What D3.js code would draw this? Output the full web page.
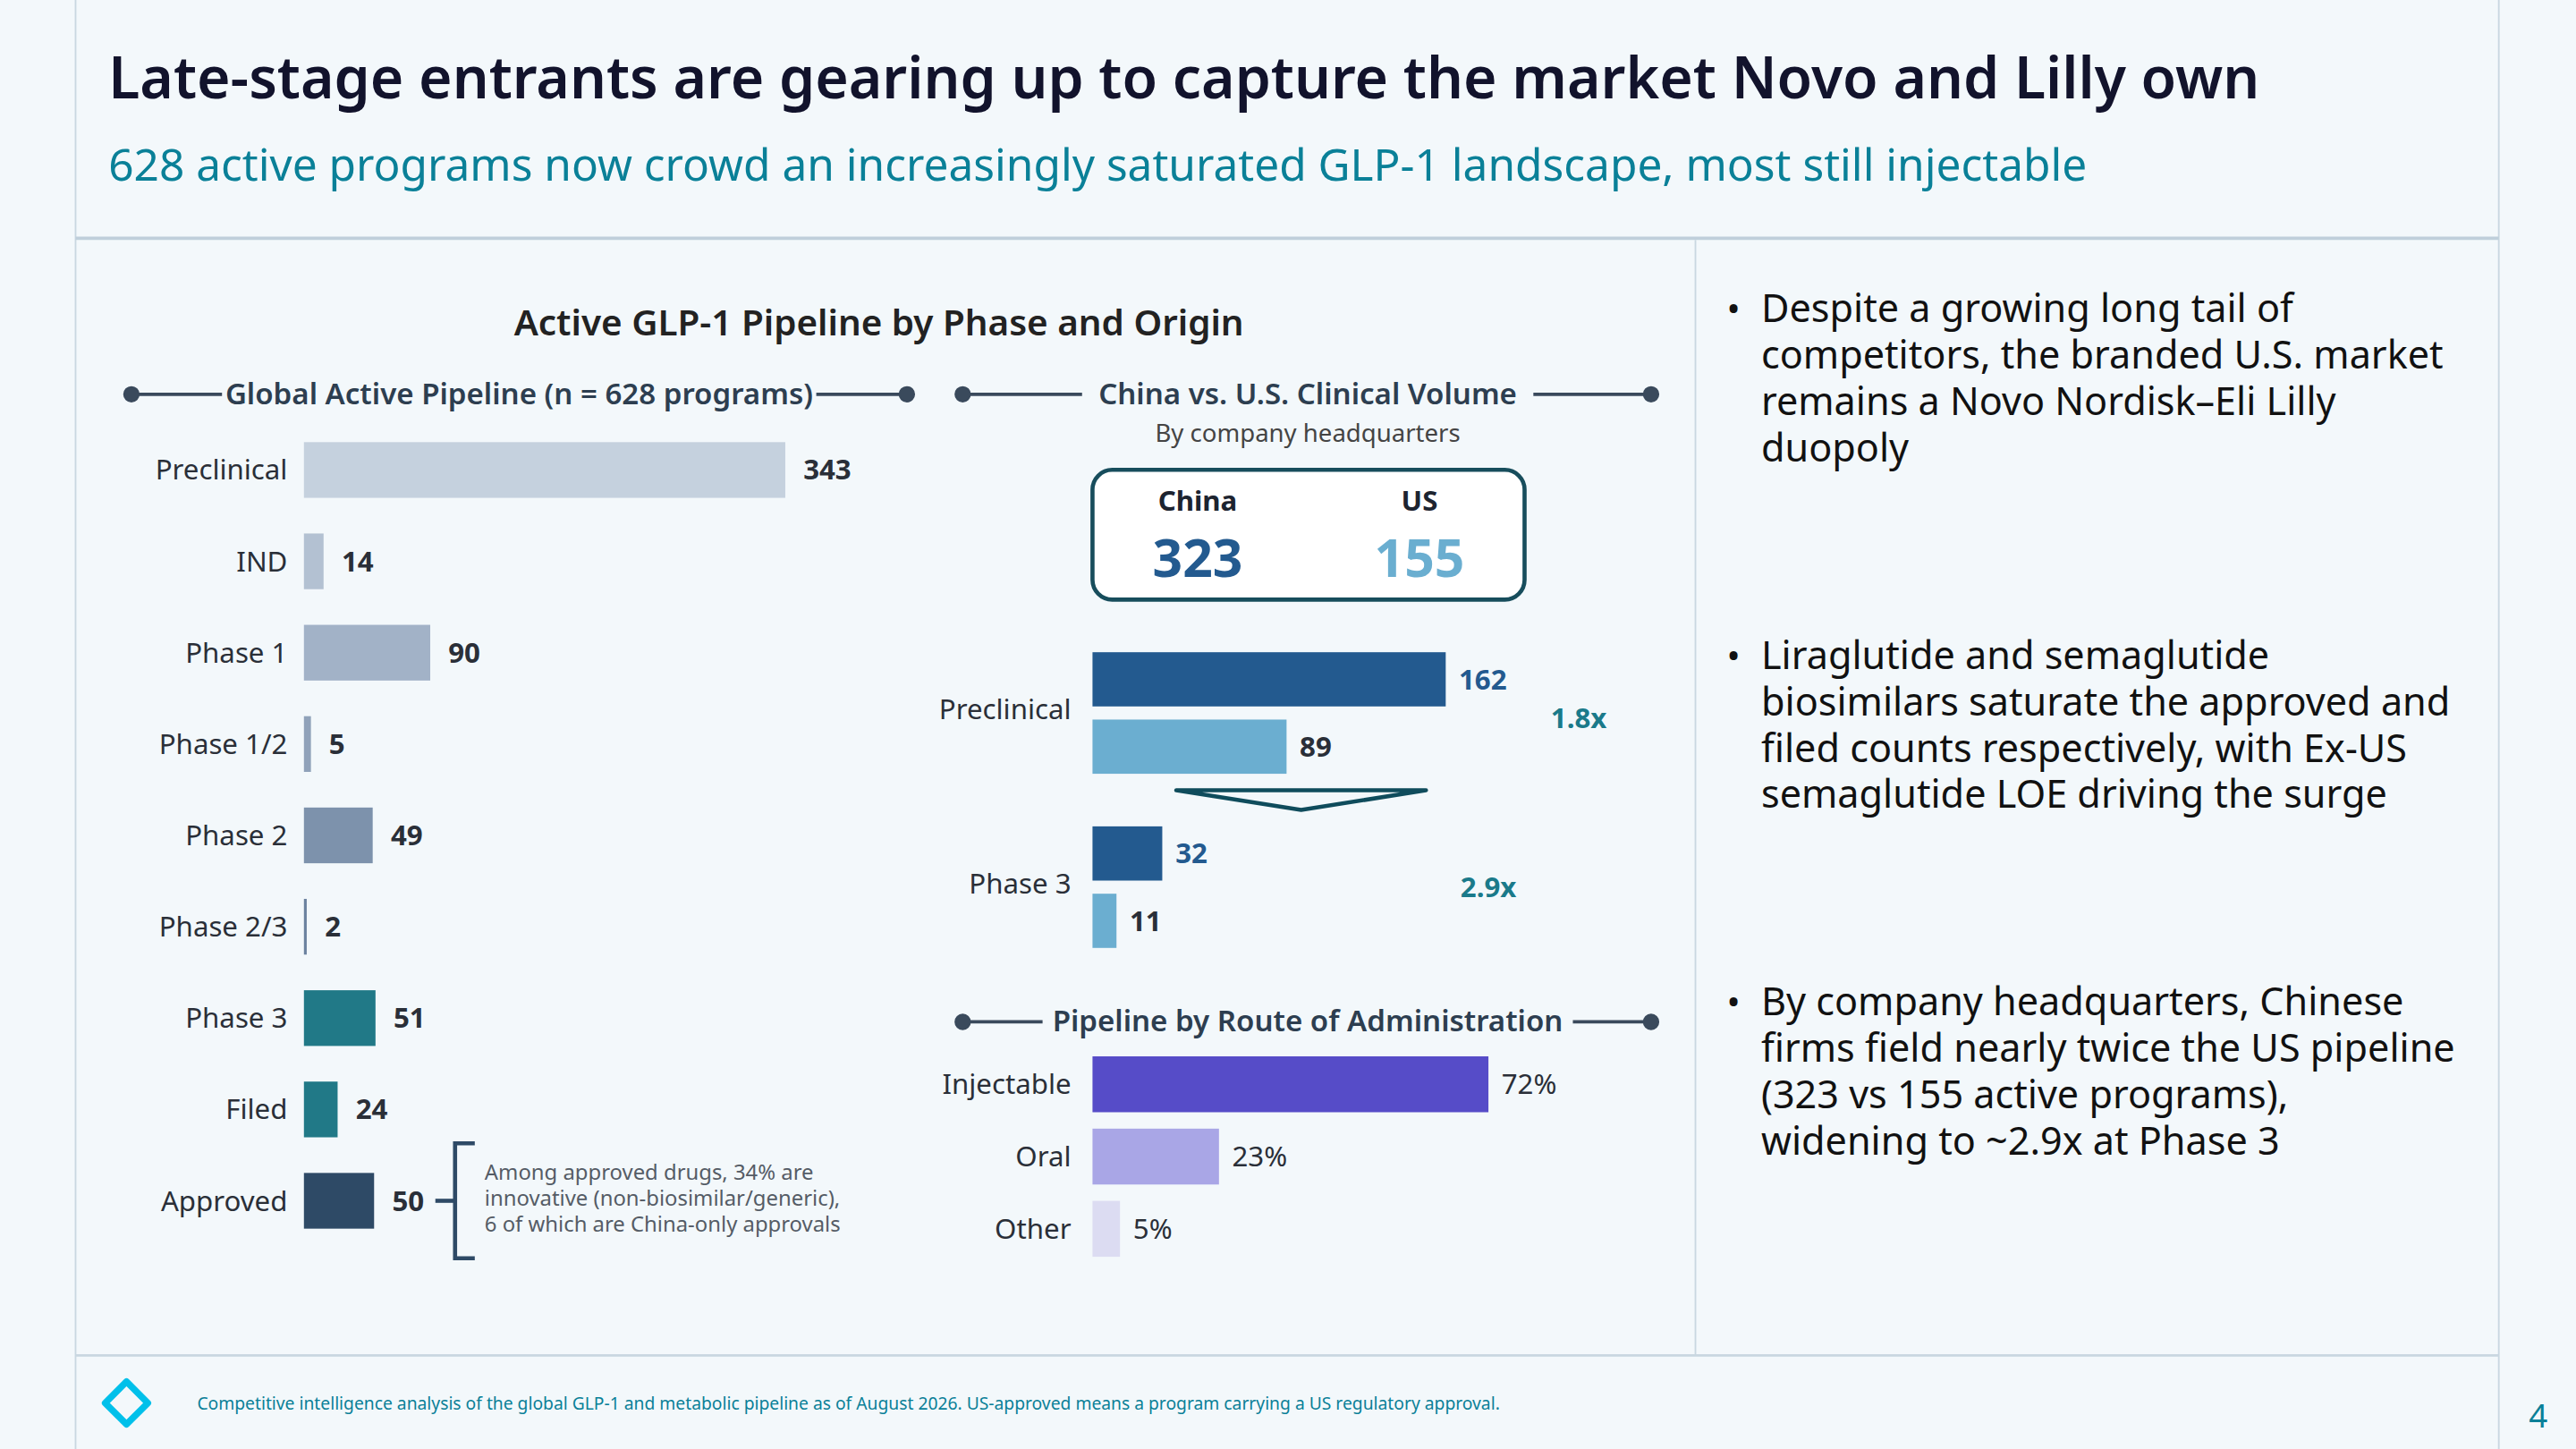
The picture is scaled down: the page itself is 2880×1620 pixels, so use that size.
<!DOCTYPE html>
<html><head><meta charset="utf-8">
<script src="https://cdn.jsdelivr.net/npm/d3@7"></script>
<style>html,body{margin:0;padding:0;background:#f3f8fb;}svg{display:block;font-family:"Noto Sans","Open Sans",sans-serif;}</style>
</head><body><div id="chart"></div>
<script>
// data
const phases = ["Preclinical", "IND", "Phase 1", "Phase 1/2", "Phase 2", "Phase 2/3", "Phase 3", "Filed", "Approved"];
const phaseCounts = [343, 14, 90, 5, 49, 2, 51, 24, 50];
const phaseColors = ["#c5d1de", "#b3c1d2", "#a2b2c7", "#90a2ba", "#7d92ac", "#6b829f", "#217987", "#217987", "#2e4a66"];
const originStages = ["Preclinical", "Phase 3"];
const chinaCounts = [162, 32];
const usCounts = [89, 11];
const ratios = ["1.8x", "2.9x"];
const originTotals = [["China", 323], ["US", 155]];
const routes = ["Injectable", "Oral", "Other"];
const routeShares = [72, 23, 5];
const routeColors = ["#564cc8", "#a9a6e6", "#dcdcf2"];
const bullets = [
  ["Despite a growing long tail of", "competitors, the branded U.S. market", "remains a Novo Nordisk\u2013Eli Lilly", "duopoly"],
  ["Liraglutide and semaglutide", "biosimilars saturate the approved and", "filed counts respectively, with Ex-US", "semaglutide LOE driving the surge"],
  ["By company headquarters, Chinese", "firms field nearly twice the US pipeline", "(323 vs 155 active programs),", "widening to ~2.9x at Phase 3"]
];

const svg = d3.select("#chart").append("svg")
  .attr("width", 2880).attr("height", 1620)
  .attr("viewBox", "0 0 1568 882");

svg.append("rect").attr("width", 1568).attr("height", 882).attr("fill", "#f3f8fb");

// frame
const lineC = "#c9d7e1";
svg.append("line").attr("x1", 46).attr("x2", 46).attr("y1", 0).attr("y2", 882).attr("stroke", lineC);
svg.append("line").attr("x1", 1521).attr("x2", 1521).attr("y1", 0).attr("y2", 882).attr("stroke", lineC);
svg.append("line").attr("x1", 46).attr("x2", 1521).attr("y1", 145).attr("y2", 145).attr("stroke", "#bfcfdb").attr("stroke-width", 2);
svg.append("line").attr("x1", 1032).attr("x2", 1032).attr("y1", 146).attr("y2", 825).attr("stroke", lineC);
svg.append("line").attr("x1", 46).attr("x2", 1521).attr("y1", 825).attr("y2", 825).attr("stroke", "#c9d7e1").attr("stroke-width", 1.5);

// titles
svg.append("text").attr("x", 66).attr("y", 60).attr("font-size", 35).attr("font-weight", 600)
  .attr("fill", "#12132c").text("Late-stage entrants are gearing up to capture the market Novo and Lilly own");
svg.append("text").attr("x", 66).attr("y", 110).attr("font-size", 27)
  .attr("fill", "#0a8098").text("628 active programs now crowd an increasingly saturated GLP-1 landscape, most still injectable");
svg.append("text").attr("x", 535).attr("y", 204).attr("text-anchor", "middle").attr("font-size", 22).attr("font-weight", 600)
  .attr("fill", "#222").text("Active GLP-1 Pipeline by Phase and Origin");

function header(text, cx, y, x0, x1, gap) {
  const t = svg.append("text").attr("x", cx).attr("y", y + 6).attr("text-anchor", "middle")
    .attr("font-size", 18).attr("font-weight", 600).attr("fill", "#2d3e50").text(text);
  const w = t.node().getComputedTextLength();
  const g = svg.append("g").attr("stroke", "#3a4a5c").attr("fill", "#3a4a5c");
  g.append("line").attr("x1", x0).attr("x2", cx - w / 2 - gap).attr("y1", y).attr("y2", y).attr("stroke-width", 2);
  g.append("line").attr("x1", cx + w / 2 + gap).attr("x2", x1).attr("y1", y).attr("y2", y).attr("stroke-width", 2);
  g.append("circle").attr("cx", x0).attr("cy", y).attr("r", 4.5);
  g.append("circle").attr("cx", x1).attr("cy", y).attr("r", 4.5);
}

// left: global pipeline
header("Global Active Pipeline (n = 628 programs)", 316, 240, 80, 552, 2);
const xL = d3.scaleLinear().domain([0, 343]).range([185, 478]);
const yL = d3.scaleBand().domain(phases).range([258, 759]).paddingInner(0.39).paddingOuter(0.2);
const left = svg.append("g");
left.selectAll("rect").data(phases).join("rect")
  .attr("x", xL(0)).attr("y", d => yL(d)).attr("height", yL.bandwidth())
  .attr("width", (d, i) => xL(phaseCounts[i]) - xL(0)).attr("fill", (d, i) => phaseColors[i]);
left.selectAll("text.lab").data(phases).join("text").attr("class", "lab")
  .attr("x", 175).attr("y", d => yL(d) + yL.bandwidth() / 2 + 6).attr("text-anchor", "end")
  .attr("font-size", 17).attr("fill", "#2a2f38").text(d => d);
left.selectAll("text.val").data(phases).join("text").attr("class", "val")
  .attr("x", (d, i) => xL(phaseCounts[i]) + 11).attr("y", d => yL(d) + yL.bandwidth() / 2 + 6)
  .attr("font-size", 17).attr("font-weight", 700).attr("fill", "#2a2f38").text((d, i) => phaseCounts[i]);

// bracket annotation next to Approved
const ay = yL("Approved") + yL.bandwidth() / 2;
const br = svg.append("g").attr("stroke", "#2e4a66").attr("stroke-width", 2.5).attr("fill", "none");
br.append("line").attr("x1", 265).attr("x2", 277).attr("y1", ay).attr("y2", ay);
br.append("path").attr("d", `M289,${ay - 35} H277 V${ay + 35} H289`);
["Among approved drugs, 34% are", "innovative (non-biosimilar/generic),", "6 of which are China-only approvals"].forEach((s, i) => {
  svg.append("text").attr("x", 295).attr("y", ay - 13 + i * 16).attr("font-size", 13).attr("fill", "#555c66").text(s);
});

// middle: China vs US
header("China vs. U.S. Clinical Volume", 796, 240, 586, 1005, 10);
svg.append("text").attr("x", 796).attr("y", 269).attr("text-anchor", "middle").attr("font-size", 15)
  .attr("fill", "#444").text("By company headquarters");
svg.append("rect").attr("x", 665).attr("y", 286).attr("width", 263).attr("height", 79).attr("rx", 12)
  .attr("fill", "#fff").attr("stroke", "#174d5c").attr("stroke-width", 2.5);
const boxX = d3.scalePoint().domain(originTotals.map(d => d[0])).range([729, 864]);
originTotals.forEach((d, i) => {
  svg.append("text").attr("x", boxX(d[0])).attr("y", 311).attr("text-anchor", "middle").attr("font-size", 17)
    .attr("font-weight", 700).attr("fill", "#1d2430").text(d[0]);
  svg.append("text").attr("x", boxX(d[0])).attr("y", 351).attr("text-anchor", "middle").attr("font-size", 32)
    .attr("font-weight", 700).attr("fill", i === 0 ? "#235a8f" : "#6aaed0").text(d[1]);
});

const xM = d3.scaleLinear().domain([0, 162]).range([665, 880]);
const yM = d3.scaleBand().domain(originStages).range([397, 577]).paddingInner(0.302);
const sub = d3.scaleBand().domain(["China", "US"]).range([0, yM.bandwidth()]).paddingInner(0.195);
const mid = svg.append("g");
originStages.forEach((s, i) => {
  const y0 = yM(s);
  [["China", chinaCounts[i], "#235a8f", "#235a8f"], ["US", usCounts[i], "#6baed0", "#2a2f38"]].forEach(([k, v, c, tc]) => {
    mid.append("rect").attr("x", xM(0)).attr("y", y0 + sub(k)).attr("width", xM(v) - xM(0))
      .attr("height", sub.bandwidth()).attr("fill", c);
    mid.append("text").attr("x", xM(v) + 8).attr("y", y0 + sub(k) + sub.bandwidth() / 2 + 6)
      .attr("font-size", 17).attr("font-weight", 700).attr("fill", tc).text(v);
  });
  mid.append("text").attr("x", 652).attr("y", y0 + yM.bandwidth() / 2 + 4).attr("text-anchor", "end")
    .attr("font-size", 17).attr("fill", "#2a2f38").text(s);
});
mid.append("text").attr("x", 961).attr("y", 443).attr("text-anchor", "middle").attr("font-size", 17)
  .attr("font-weight", 700).attr("fill", "#1a7a8a").text(ratios[0]);
mid.append("text").attr("x", 906).attr("y", 546).attr("text-anchor", "middle").attr("font-size", 17)
  .attr("font-weight", 700).attr("fill", "#1a7a8a").text(ratios[1]);
mid.append("path").attr("d", "M716,481 H868 L792,493 Z").attr("fill", "none")
  .attr("stroke", "#0f4c5c").attr("stroke-width", 2.5).attr("stroke-linejoin", "round");

// route of administration
header("Pipeline by Route of Administration", 796, 622, 586, 1005, 6);
const xR = d3.scaleLinear().domain([0, 72]).range([665, 906]);
const yR = d3.scaleBand().domain(routes).range([643, 765]).paddingInner(0.227);
const rg = svg.append("g");
rg.selectAll("rect").data(routes).join("rect")
  .attr("x", xR(0)).attr("y", d => yR(d)).attr("height", yR.bandwidth())
  .attr("width", (d, i) => xR(routeShares[i]) - xR(0)).attr("fill", (d, i) => routeColors[i]);
rg.selectAll("text.lab").data(routes).join("text").attr("class", "lab")
  .attr("x", 652).attr("y", d => yR(d) + yR.bandwidth() / 2 + 6).attr("text-anchor", "end")
  .attr("font-size", 17).attr("fill", "#2a2f38").text(d => d);
rg.selectAll("text.val").data(routes).join("text").attr("class", "val")
  .attr("x", (d, i) => xR(routeShares[i]) + 8).attr("y", d => yR(d) + yR.bandwidth() / 2 + 6)
  .attr("font-size", 17).attr("fill", "#2a2f38").text((d, i) => routeShares[i] + "%");

// bullets
const bulletY = [196, 407, 618];
bullets.forEach((lines, b) => {
  svg.append("text").attr("x", 1051).attr("y", bulletY[b]).attr("font-size", 22).attr("fill", "#111").text("\u2022");
  lines.forEach((l, i) => {
    svg.append("text").attr("x", 1072).attr("y", bulletY[b] + i * 28.3).attr("font-size", 23.5)
      .attr("fill", "#111").text(l);
  });
});

// footer
svg.append("path").attr("d", "M77,841 L90,854 L77,867 L64,854 Z").attr("fill", "none")
  .attr("stroke", "#00c0ea").attr("stroke-width", 4).attr("stroke-linejoin", "round");
svg.append("text").attr("x", 120).attr("y", 858).attr("font-size", 10.5).attr("fill", "#0a8098")
  .text("Competitive intelligence analysis of the global GLP-1 and metabolic pipeline as of August 2026. US-approved means a program carrying a US regulatory approval.");
svg.append("text").attr("x", 1545).attr("y", 869).attr("text-anchor", "middle").attr("font-size", 20)
  .attr("fill", "#0a8098").text("4");
</script></body></html>
